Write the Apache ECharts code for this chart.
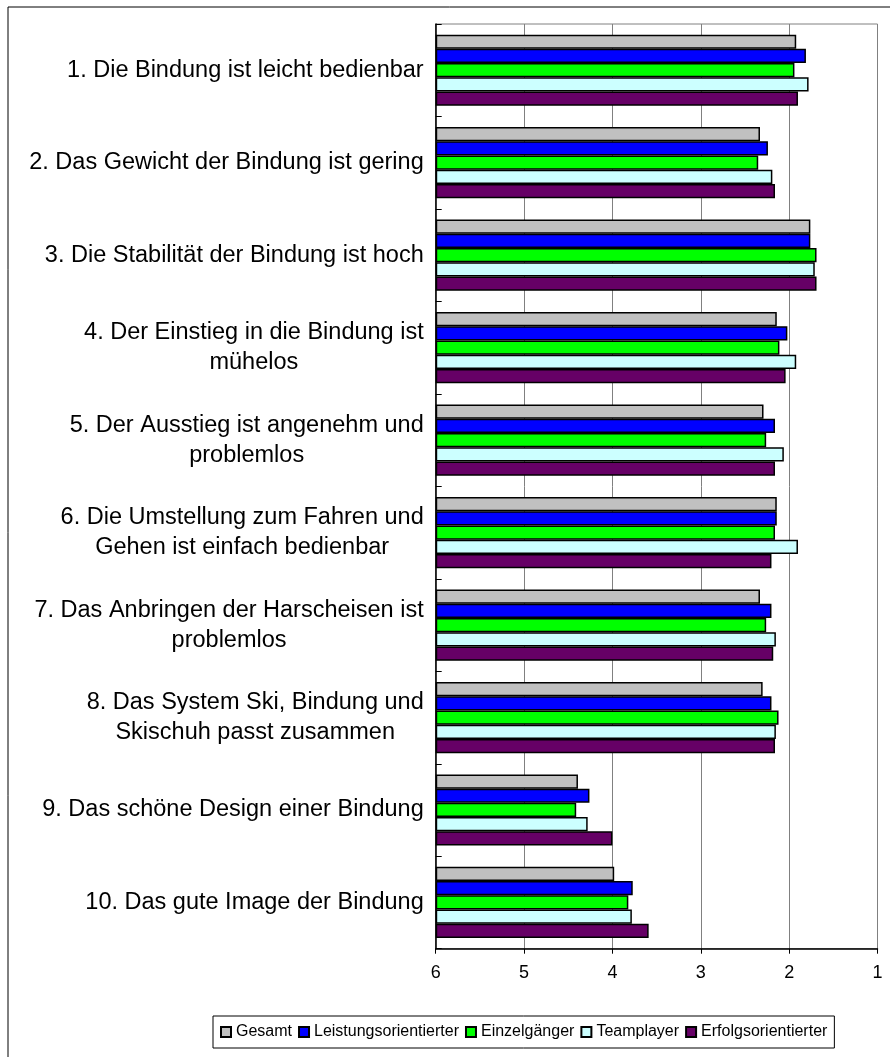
<!DOCTYPE html>
<html>
<head>
<meta charset="utf-8">
<script src="https://cdn.jsdelivr.net/npm/echarts@6/dist/echarts.min.js"></script>
<style>
  html, body { margin: 0; padding: 0; background: #fff; }
  #chart { width: 890px; height: 1057px; }
</style>
</head>
<body>
<div id="chart"></div>
<script>
const categories = [
  '1. Die Bindung ist leicht bedienbar',
  '2. Das Gewicht der Bindung ist gering',
  '3. Die Stabilität der Bindung ist hoch',
  '4. Der Einstieg in die Bindung ist\nmühelos',
  '5. Der Ausstieg ist angenehm und\nproblemlos',
  '6. Die Umstellung zum Fahren und\nGehen ist einfach bedienbar',
  '7. Das Anbringen der Harscheisen ist\nproblemlos',
  '8. Das System Ski, Bindung und\nSkischuh passt zusammen',
  '9. Das schöne Design einer Bindung',
  '10. Das gute Image der Bindung'
];
const seriesNames = ['Gesamt', 'Leistungsorientierter', 'Einzelgänger', 'Teamplayer', 'Erfolgsorientierter'];
const gesamt = [1.92, 2.33, 1.76, 2.14, 2.29, 2.14, 2.33, 2.30, 4.39, 3.98];
const leistung = [1.81, 2.24, 1.76, 2.02, 2.16, 2.14, 2.20, 2.20, 4.26, 3.77];
const einzel = [1.94, 2.35, 1.69, 2.11, 2.26, 2.16, 2.26, 2.12, 4.41, 3.82];
const team = [1.78, 2.19, 1.71, 1.92, 2.06, 1.90, 2.15, 2.15, 4.28, 3.78];
const erfolg = [1.90, 2.16, 1.69, 2.04, 2.16, 2.20, 2.18, 2.16, 4.00, 3.59];
const tickLabels = ['6', '5', '4', '3', '2', '1'];
const colors = ['#C0C0C0', '#0000FF', '#00FF00', '#CCFFFF', '#660066'];

const worst = 6; // Skala 1 (best) .. 6 (worst), Balken starten bei 6
const font = 'Liberation Sans, Arial, sans-serif';

const chart = echarts.init(document.getElementById('chart'), null, { renderer: 'canvas' });

const values = [gesamt, leistung, einzel, team, erfolg];
const series = values.map(function (arr, i) {
  return {
    name: seriesNames[i],
    type: 'bar',
    data: arr.map(function (v) { return worst - v; }),
    barGap: '0%',
    barCategoryGap: '23%',
    itemStyle: {
      color: colors[i],
      borderColor: '#000',
      borderWidth: 1.5
    }
  };
});

const option = {
  animation: false,
  textStyle: { fontFamily: font },
  grid: {
    left: 435.7,
    right: 12.5,
    top: 24,
    bottom: 108.3,
    show: true,
    borderColor: '#808080',
    borderWidth: 1
  },
  legend: {
    data: seriesNames,
    left: 213,
    top: 1016,
    orient: 'horizontal',
    icon: 'rect',
    itemWidth: 10,
    itemHeight: 10,
    itemGap: 6,
    padding: [8, 7],
    borderColor: '#000',
    borderWidth: 1,
    textStyle: { fontSize: 16, color: '#000', fontFamily: font }
  },
  xAxis: {
    type: 'value',
    min: 0,
    max: 5,
    interval: 1,
    axisLine: { show: true, lineStyle: { color: '#000', width: 1.5 } },
    axisTick: { show: true, length: 5, lineStyle: { color: '#000' } },
    axisLabel: {
      margin: 15,
      fontSize: 18,
      color: '#000',
      formatter: function (v) { return tickLabels[v]; }
    },
    splitLine: { show: true, lineStyle: { color: '#808080', width: 1 } }
  },
  yAxis: {
    type: 'category',
    inverse: true,
    data: categories,
    axisLine: { show: true, lineStyle: { color: '#000', width: 1.5 } },
    axisTick: { show: true, inside: true, length: 6, lineStyle: { color: '#000' } },
    axisLabel: {
      margin: 12,
      color: '#000',
      formatter: function (v) {
        return v.split('\n').map(function (s) { return '{c|' + s + '}'; }).join('\n');
      },
      rich: {
        c: { align: 'center', fontSize: 23.5, lineHeight: 30, color: '#000', fontFamily: font }
      }
    }
  },
  graphic: [{
    type: 'rect',
    shape: { x: 8, y: 7, width: 900, height: 1070 },
    style: { fill: 'none', stroke: '#000', lineWidth: 1 },
    silent: true
  }],
  series: series
};

chart.setOption(option);
</script>
</body>
</html>
